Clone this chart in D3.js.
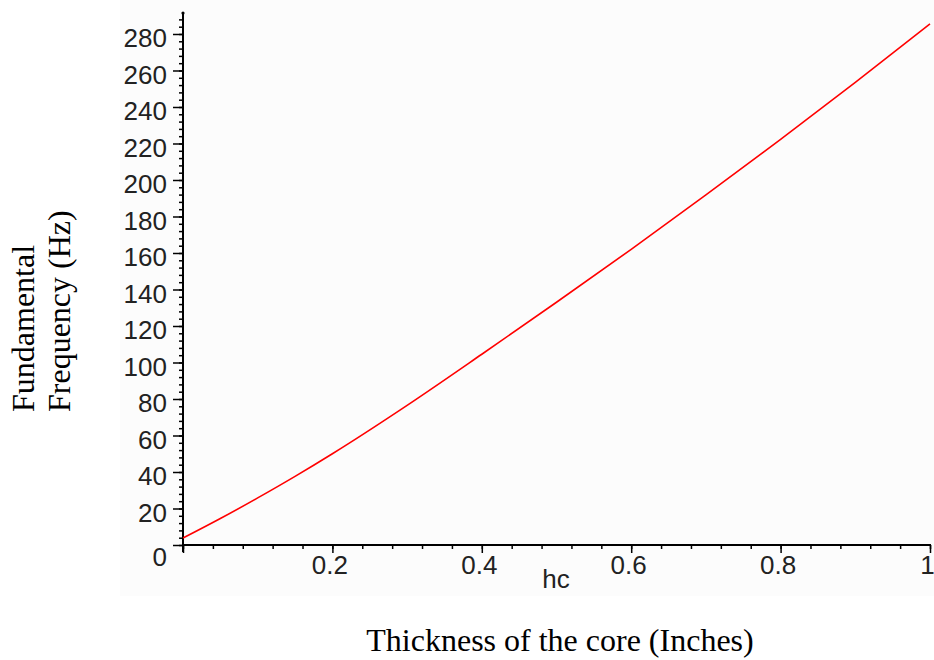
<!DOCTYPE html>
<html>
<head>
<meta charset="utf-8">
<script src="https://cdn.jsdelivr.net/npm/d3@7/dist/d3.min.js"></script>
<style>
  body { margin: 0; background: #fff; }
  svg { display: block; }
</style>
</head>
<body>
<div id="chart"></div>
<script>
// thickness of the core (inches) vs fundamental frequency (Hz)
const thickness = [0, 0.05, 0.1, 0.15, 0.2, 0.3, 0.4, 0.5, 0.6, 0.7, 0.8, 0.9, 1.0]
const frequency = [3.8, 14.5, 25.8, 37.6, 50, 76.5, 104.5, 133, 162, 191.8, 222.3, 253.5, 285.5]

const xMajorTicks = [0, 0.2, 0.4, 0.6, 0.8, 1]
const yMajorTicks = [0, 20, 40, 60, 80, 100, 120, 140, 160, 180, 200, 220, 240, 260, 280]

const width = 934, height = 660
const margin = { left: 183, right: 4, top: 13, bottom: 115 }

const svg = d3.select('#chart').append('svg')
    .attr('width', width)
    .attr('height', height)

// faint grey panel behind the plot
svg.append('rect')
    .attr('x', 120).attr('y', 0)
    .attr('width', width - 120).attr('height', 596)
    .attr('fill', '#fcfcfc')

const x = d3.scaleLinear().domain([0, 1]).range([margin.left, 930])
const y = d3.scaleLinear().domain([0, 291.5]).range([545, margin.top])

const tickFont = '"Liberation Sans", Arial, sans-serif'

// minor ticks first, then majors on top
svg.append('g')
    .attr('transform', 'translate(0,545)')
    .call(d3.axisBottom(x).tickValues(d3.range(0, 1.0001, 0.04)).tickSize(4).tickFormat(''))
    .call(g => g.select('.domain').remove())
    .call(g => g.selectAll('line').attr('stroke', '#000').attr('stroke-width', 1.5))

svg.append('g')
    .attr('transform', `translate(${margin.left},0)`)
    .call(d3.axisLeft(y).tickValues(d3.range(0, 290, 4)).tickSize(4).tickFormat(''))
    .call(g => g.select('.domain').remove())
    .call(g => g.selectAll('line').attr('stroke', '#000').attr('stroke-width', 1.5))

const xAxis = svg.append('g')
    .attr('transform', 'translate(0,545)')
    .call(d3.axisBottom(x).tickValues(xMajorTicks).tickSize(8).tickSizeOuter(0).tickPadding(14)
        .tickFormat(d => d === 0 ? '' : d3.format('~g')(d)))
xAxis.select('.domain').attr('stroke-width', 2).attr('d', `M${x(0)},0H${x(1) + 1}`)
xAxis.selectAll('line').attr('stroke-width', 1.5)
xAxis.selectAll('text')
    .attr('font-family', tickFont).attr('font-size', 26).attr('fill', '#222')
    .attr('dx', -3).attr('dy', '0.71em').attr('y', 11)

const yAxis = svg.append('g')
    .attr('transform', `translate(${margin.left},0)`)
    .call(d3.axisLeft(y).tickValues(yMajorTicks).tickSize(10).tickSizeOuter(0).tickPadding(6))
yAxis.select('.domain').attr('stroke-width', 2).attr('d', `M0,${y(0) + 7}V${margin.top}`)
yAxis.selectAll('line').attr('stroke-width', 1.5)
yAxis.selectAll('text')
    .attr('font-family', tickFont).attr('font-size', 26).attr('fill', '#222')
    .attr('x', -16)
    .attr('dy', d => d === 0 ? 20 : 13)

// little dot capping the vertical axis
svg.append('circle').attr('cx', margin.left).attr('cy', margin.top).attr('r', 1.6).attr('fill', '#000')

// frequency curve
const points = thickness.map((t, i) => [t, frequency[i]])
svg.append('path')
    .datum(points)
    .attr('fill', 'none')
    .attr('stroke', '#ff0000')
    .attr('stroke-width', 1.6)
    .attr('d', d3.line().x(d => x(d[0])).y(d => y(d[1])).curve(d3.curveMonotoneX))

// variable name under the axis
svg.append('text')
    .attr('x', 556).attr('y', 588)
    .attr('text-anchor', 'middle')
    .attr('font-family', tickFont).attr('font-size', 26).attr('fill', '#222')
    .text('hc')

const serif = '"Liberation Serif", "Times New Roman", serif'

svg.append('text')
    .attr('x', 560).attr('y', 651)
    .attr('text-anchor', 'middle')
    .attr('font-family', serif).attr('font-size', 32)
    .text('Thickness of the core (Inches)')

const yLabel = svg.append('text')
    .attr('transform', 'translate(34,412) rotate(-90)')
    .attr('font-family', serif).attr('font-size', 32)
yLabel.append('tspan').attr('x', 0).attr('y', 0).text('Fundamental')
yLabel.append('tspan').attr('x', 0).attr('y', 36).text('Frequency (Hz)')
</script>
</body>
</html>
